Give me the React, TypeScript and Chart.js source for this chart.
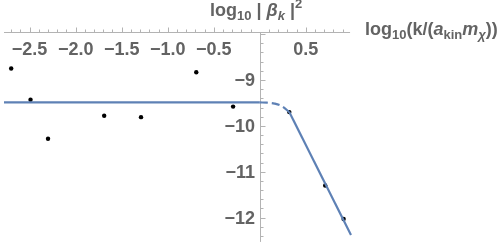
import React, { useEffect, useRef } from "react";
import { Chart, registerables } from "chart.js";

Chart.register(...registerables);

// ---- data ----
const sampleX = [-2.70, -2.49, -2.30, -1.69, -1.29, -0.69, -0.29, 0.32, 0.71, 0.91];
const sampleY = [-8.75, -9.43, -10.28, -9.78, -9.81, -8.83, -9.58, -9.70, -11.30, -12.03];

const plateauX = [-2.8, 0];
const plateauY = [-9.49, -9.49];

const transitionX = [0, 0.08, 0.16, 0.24, 0.32];
const transitionY = [-9.49, -9.495, -9.515, -9.57, -9.70];

const tailX = [0.32, 0.99];
const tailY = [-9.70, -12.38];

const xTickValues = [-2.5, -2.0, -1.5, -1.0, -0.5, 0.5];
const xTickLabels = ["\u22122.5", "\u22122.0", "\u22121.5", "\u22121.0", "\u22120.5", "0.5"];
const yTickValues = [-9, -10, -11, -12];
const yTickLabels = ["\u22129", "\u221210", "\u221211", "\u221212"];

// view / axis ranges
const X_MIN = -2.778;
const X_MAX = 2.543;
const Y_MIN = -12.597;
const Y_MAX = -7.344;
const X_AXIS_END = 0.98;
const X_AXIS_AT_Y = -7.956;
const Y_AXIS_BOTTOM = -12.53;

const BLUE = "#5E81B5";
const AXIS = "#b3b3b3";
const LABEL = "#636363";
const FAM = '"Liberation Sans", Arial, sans-serif';

const pts = (xs: number[], ys: number[]) => xs.map((x, i) => ({ x, y: ys[i] }));

type Seg = { t: string; size: number; italic?: boolean; dy?: number; gap?: number };

function drawRich(ctx: CanvasRenderingContext2D, x: number, y: number, segs: Seg[]) {
  let cx = x;
  for (const s of segs) {
    cx += s.gap || 0;
    ctx.font = `${s.italic ? "italic " : ""}bold ${s.size}px ${FAM}`;
    ctx.fillText(s.t, cx, y + (s.dy || 0));
    cx += ctx.measureText(s.t).width;
  }
}

const axesPlugin = {
  id: "mathAxes",
  beforeDatasetsDraw(chart: any) {
    const { ctx, scales } = chart;
    const xs = scales.x;
    const ys = scales.y;
    const ax = Math.round(xs.getPixelForValue(0)) + 0.5;
    const ay = Math.round(ys.getPixelForValue(X_AXIS_AT_Y)) + 0.5;
    ctx.save();
    ctx.strokeStyle = AXIS;
    ctx.lineWidth = 1;
    // x axis
    ctx.beginPath();
    ctx.moveTo(xs.getPixelForValue(X_MIN), ay);
    ctx.lineTo(xs.getPixelForValue(X_AXIS_END), ay);
    ctx.stroke();
    // y axis
    ctx.beginPath();
    ctx.moveTo(ax, ay);
    ctx.lineTo(ax, ys.getPixelForValue(Y_AXIS_BOTTOM));
    ctx.stroke();
    // x ticks (upward)
    for (let i = -27; i <= 9; i++) {
      if (i === 0) continue;
      const v = i / 10;
      const px = Math.round(xs.getPixelForValue(v)) + 0.5;
      const len = i % 5 === 0 ? 5 : 3;
      ctx.beginPath();
      ctx.moveTo(px, ay);
      ctx.lineTo(px, ay - len);
      ctx.stroke();
    }
    // y ticks (rightward)
    for (let i = -62; i <= -40; i++) {
      const v = i / 5;
      const py = Math.round(ys.getPixelForValue(v)) + 0.5;
      const len = i % 5 === 0 ? 5 : 3;
      ctx.beginPath();
      ctx.moveTo(ax, py);
      ctx.lineTo(ax + len, py);
      ctx.stroke();
    }
    // tick labels
    ctx.fillStyle = LABEL;
    ctx.font = `bold 18px ${FAM}`;
    ctx.textAlign = "center";
    ctx.textBaseline = "alphabetic";
    xTickValues.forEach((v, i) => {
      ctx.fillText(xTickLabels[i], xs.getPixelForValue(v), ay + 22);
    });
    ctx.textAlign = "right";
    yTickValues.forEach((v, i) => {
      ctx.fillText(yTickLabels[i], ax - 5.5, ys.getPixelForValue(v) + 6.5);
    });
    // axis labels
    ctx.textAlign = "left";
    drawRich(ctx, 210, 16, [
      { t: "log", size: 18 },
      { t: "10", size: 13, dy: 4 },
      { t: " | ", size: 18 },
      { t: "\u03B2", size: 18, italic: true },
      { t: "k", size: 13, italic: true, dy: 4 },
      { t: " |", size: 18 },
      { t: "2", size: 13, dy: -8 },
    ]);
    drawRich(ctx, 365, 35, [
      { t: "log", size: 18 },
      { t: "10", size: 13, dy: 4 },
      { t: "(k/(", size: 18 },
      { t: "a", size: 18, italic: true },
      { t: "kin", size: 13, dy: 4 },
      { t: "m", size: 18, italic: true },
      { t: "\u03C7", size: 13, italic: true, dy: 4 },
      { t: "))", size: 18 },
    ]);
    ctx.restore();
  },
};

export default function App() {
  const ref = useRef<HTMLCanvasElement | null>(null);
  useEffect(() => {
    if (!ref.current) return;
    const chart = new Chart(ref.current, {
      type: "scatter",
      data: {
        datasets: [
          {
            data: pts(plateauX, plateauY),
            showLine: true,
            borderColor: BLUE,
            borderWidth: 2.2,
            pointRadius: 0,
          },
          {
            data: pts(transitionX, transitionY),
            showLine: true,
            borderColor: BLUE,
            borderWidth: 2.2,
            borderDash: [8, 4],
            pointRadius: 0,
            tension: 0.4,
            cubicInterpolationMode: "monotone",
          },
          {
            data: pts(tailX, tailY),
            showLine: true,
            borderColor: BLUE,
            borderWidth: 2.2,
            pointRadius: 0,
          },
          {
            data: pts(sampleX, sampleY),
            showLine: false,
            pointRadius: 2.2,
            pointBackgroundColor: "#000",
            pointBorderWidth: 0,
          },
        ],
      } as any,
      options: {
        animation: false,
        responsive: false,
        devicePixelRatio: 1,
        layout: { padding: 0 },
        plugins: { legend: { display: false }, tooltip: { enabled: false } },
        scales: {
          x: { type: "linear", min: X_MIN, max: X_MAX, display: false },
          y: { type: "linear", min: Y_MIN, max: Y_MAX, display: false },
        },
      } as any,
      plugins: [axesPlugin],
    });
    return () => chart.destroy();
  }, []);
  return (
    <div style={{ position: "fixed", left: 0, top: 0, width: 498, height: 249, background: "#fff" }}>
      <canvas ref={ref} width={498} height={249} style={{ display: "block" }} />
    </div>
  );
}
